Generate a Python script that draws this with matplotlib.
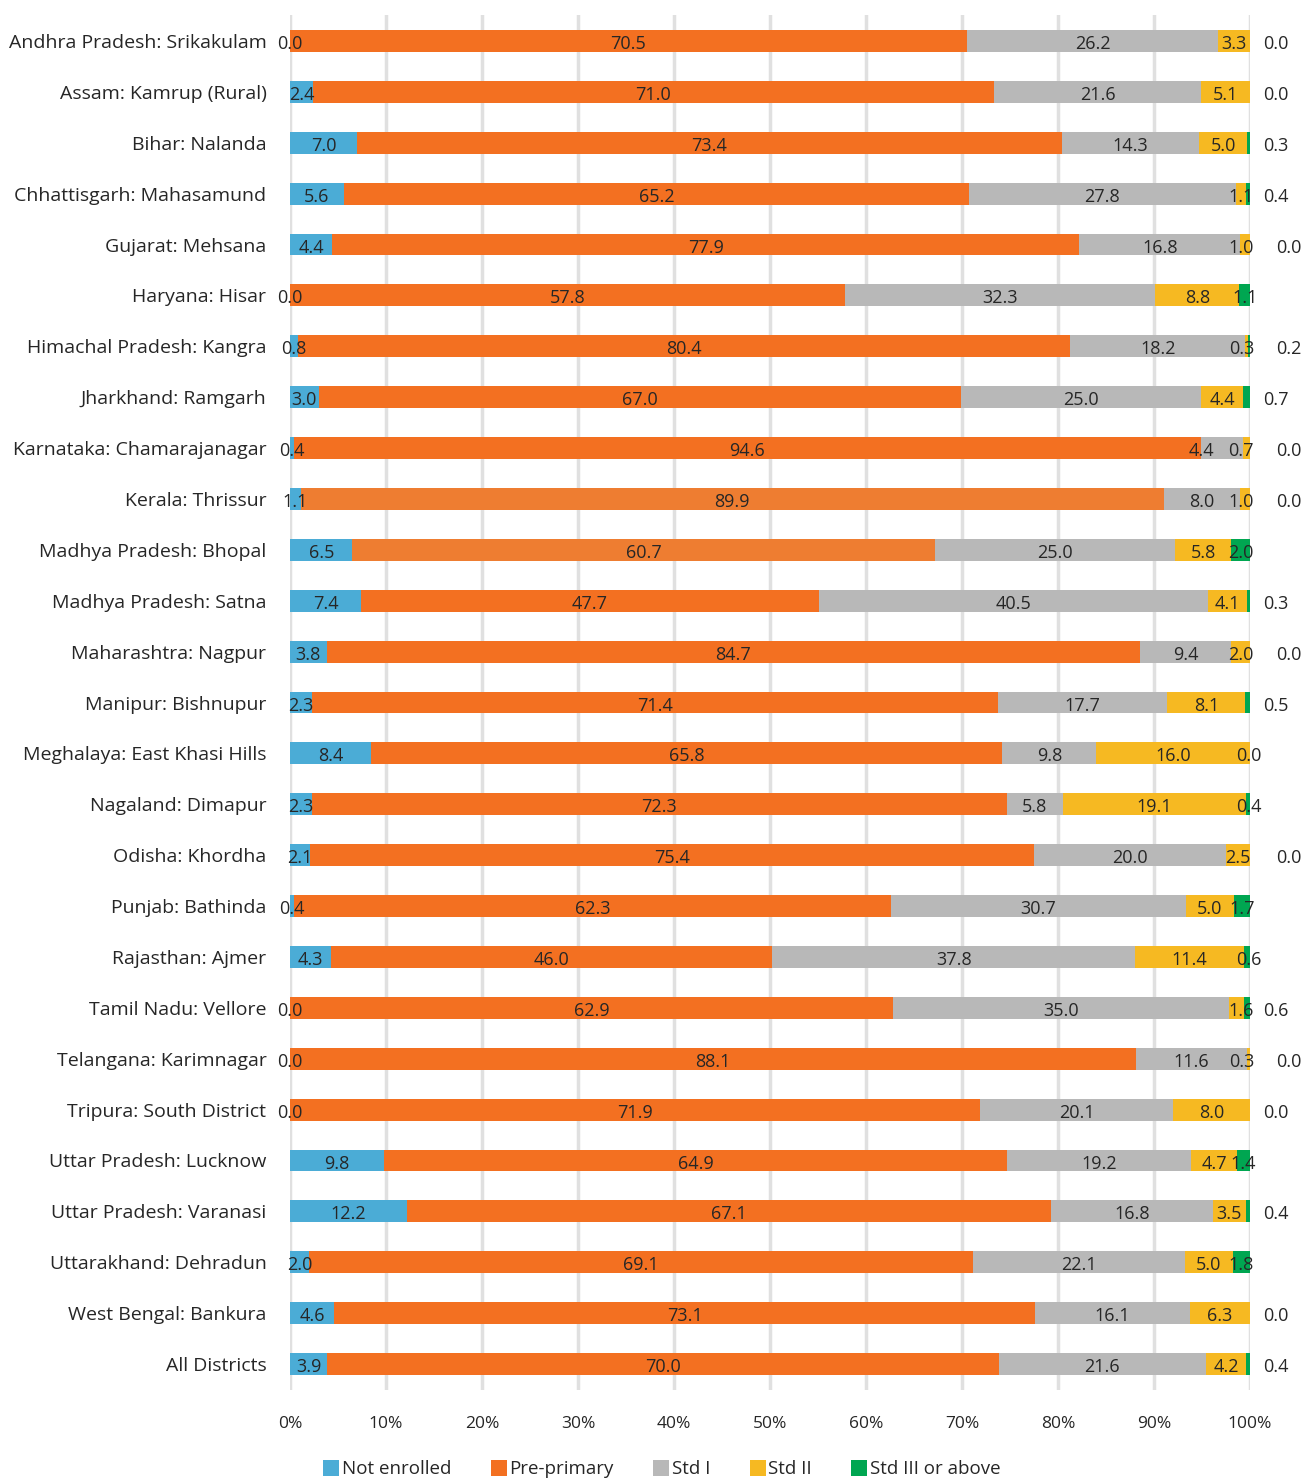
import matplotlib
matplotlib.use("Agg")
import matplotlib.pyplot as plt
from matplotlib.patches import Patch
import numpy as np

plt.rcParams['font.family'] = ['Open Sans', 'DejaVu Sans']

districts = [
    "Andhra Pradesh: Srikakulam", "Assam: Kamrup (Rural)", "Bihar: Nalanda",
    "Chhattisgarh: Mahasamund", "Gujarat: Mehsana", "Haryana: Hisar",
    "Himachal Pradesh: Kangra", "Jharkhand: Ramgarh", "Karnataka: Chamarajanagar",
    "Kerala: Thrissur", "Madhya Pradesh: Bhopal", "Madhya Pradesh: Satna",
    "Maharashtra: Nagpur", "Manipur: Bishnupur", "Meghalaya: East Khasi Hills",
    "Nagaland: Dimapur", "Odisha: Khordha", "Punjab: Bathinda", "Rajasthan: Ajmer",
    "Tamil Nadu: Vellore", "Telangana: Karimnagar", "Tripura: South District",
    "Uttar Pradesh: Lucknow", "Uttar Pradesh: Varanasi", "Uttarakhand: Dehradun",
    "West Bengal: Bankura", "All Districts",
]
not_enrolled = [0.0, 2.4, 7.0, 5.6, 4.4, 0.0, 0.8, 3.0, 0.4, 1.1, 6.5, 7.4, 3.8, 2.3,
                8.4, 2.3, 2.1, 0.4, 4.3, 0.0, 0.0, 0.0, 9.8, 12.2, 2.0, 4.6, 3.9]
pre_primary = [70.5, 71.0, 73.4, 65.2, 77.9, 57.8, 80.4, 67.0, 94.6, 89.9, 60.7, 47.7,
               84.7, 71.4, 65.8, 72.3, 75.4, 62.3, 46.0, 62.9, 88.1, 71.9, 64.9, 67.1,
               69.1, 73.1, 70.0]
std1 = [26.2, 21.6, 14.3, 27.8, 16.8, 32.3, 18.2, 25.0, 4.4, 8.0, 25.0, 40.5, 9.4, 17.7,
        9.8, 5.8, 20.0, 30.7, 37.8, 35.0, 11.6, 20.1, 19.2, 16.8, 22.1, 16.1, 21.6]
std2 = [3.3, 5.1, 5.0, 1.1, 1.0, 8.8, 0.3, 4.4, 0.7, 1.0, 5.8, 4.1, 2.0, 8.1, 16.0,
        19.1, 2.5, 5.0, 11.4, 1.6, 0.3, 8.0, 4.7, 3.5, 5.0, 6.3, 4.2]
std3 = [0.0, 0.0, 0.3, 0.4, 0.0, 1.1, 0.2, 0.7, 0.0, 0.0, 2.0, 0.3, 0.0, 0.5, 0.0,
        0.4, 0.0, 1.7, 0.6, 0.6, 0.0, 0.0, 1.4, 0.4, 1.8, 0.0, 0.4]

series_names = ["Not enrolled", "Pre-primary", "Std I", "Std II", "Std III or above"]
series = [not_enrolled, pre_primary, std1, std2, std3]
colors = ["#4BACD6", "#F37021", "#B8B8B8", "#F6B922", "#00A651"]
highlight_pre = ["Kerala: Thrissur", "Madhya Pradesh: Bhopal"]

fig = plt.figure(figsize=(13.09, 14.81), dpi=100)
W, H = 1309, 1481
ax = fig.add_axes([290 / W, (H - 1390) / H, 960 / W, 1375 / H])

data = np.array(series, dtype=float)
totals = data.sum(axis=0)
pct = data / totals * 100
y = np.arange(len(districts))
left = np.zeros(len(districts))
bar_h = 0.43
text_color = "#262626"
fs = 13

for si, (name, vals) in enumerate(zip(series_names, pct)):
    cols = [colors[si]] * len(districts)
    if si == 1:
        cols = ["#EE7D31" if d in highlight_pre else colors[si] for d in districts]
    ax.barh(y, vals, left=left, height=bar_h, color=cols, zorder=3, linewidth=0)
    for i, v in enumerate(vals):
        raw = series[si][i]
        cx = left[i] + v / 2
        if si == 2 and raw < 5 and std2[i] < 1:
            cx -= 2.2
        if si == 3 and raw < 2:
            cx = 99.1
        if si == 4 and raw < 1.0:
            if std2[i] >= 10:
                cx = 99.9
            elif std2[i] < 3 and raw < 0.3:
                cx = 104.0
            else:
                cx = 102.7
        ax.text(cx, i + 0.06, f"{raw:.1f}", ha="center", va="center",
                fontsize=fs, color=text_color, zorder=5, clip_on=False)
    left = left + vals

ax.set_xlim(0, 100)
ax.set_ylim(len(districts) - 0.49, -0.51)
ax.set_xticks(np.arange(0, 101, 10))
ax.set_xticklabels([f"{t}%" for t in range(0, 101, 10)], fontsize=12.5, color=text_color)
ax.set_yticks(y)
ax.set_yticklabels(districts, fontsize=14, color=text_color)
ax.tick_params(axis="x", length=0, pad=19)
ax.tick_params(axis="y", length=0, pad=17)
ax.grid(axis="x", color="#E0E0E0", linewidth=2.5, zorder=0)
ax.set_axisbelow(True)
for s in ax.spines.values():
    s.set_visible(False)

handles = [Patch(facecolor=c, edgecolor="none") for c in colors]
fig.legend(handles, series_names, loc="center", bbox_to_anchor=(662 / W, 1 - 1469 / H),
           ncol=5, frameon=False, fontsize=13.5, handlelength=0.85, handleheight=0.95,
           handletextpad=0.15, columnspacing=2.1, labelcolor=text_color)

fig.savefig("out.png", dpi=100)
